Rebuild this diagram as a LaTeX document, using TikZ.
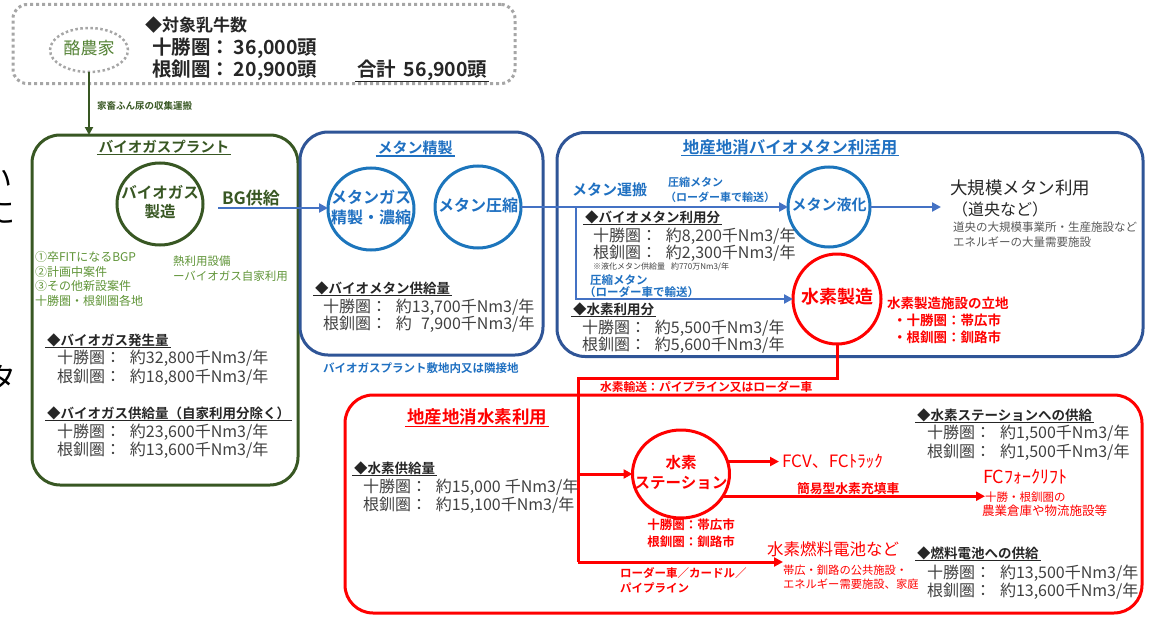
\documentclass[tikz,border=0pt]{standalone}
\usepackage{fontspec}
\setmainfont{Noto Sans CJK JP}[BoldFont={Noto Sans CJK JP Bold}]
\usetikzlibrary{arrows.meta,shapes.geometric}
\definecolor{dgreen}{HTML}{385723}
\definecolor{lgreen}{HTML}{548235}
\definecolor{tgreen}{HTML}{5F9437}
\definecolor{bbox}{HTML}{2F5597}
\definecolor{bcirc}{HTML}{1C75BC}
\definecolor{btext}{HTML}{1F70C1}
\definecolor{barrow}{HTML}{4472C4}
\definecolor{rr}{HTML}{FF0000}
\definecolor{dtext}{HTML}{404040}
\definecolor{htext}{HTML}{262626}
\definecolor{dotgray}{HTML}{A6A6A6}
\definecolor{ntext}{HTML}{595959}
\newcommand{\fsz}[2]{\fontsize{#1pt}{#2pt}\selectfont}
\newcommand{\cbox}[1]{\makebox[0pt]{\begin{tabular}{@{}c@{}}#1\end{tabular}}}
\begin{document}
\begin{tikzpicture}[x=1pt,y=-1pt,
  every node/.style={inner sep=0pt, outer sep=0pt},
  T/.style={anchor=west},
  dat/.style={T, text=dtext, font=\fsz{16}{18}},
  hd/.style={T, text=htext, font=\bfseries\fsz{13.5}{16}},
  ul/.style={append after command={([xshift=-2pt,yshift=-1pt]\tikzlastnode.south west) edge[draw=#1, line width=1.3pt] ([xshift=2pt,yshift=-1pt]\tikzlastnode.south east)}},
  circ/.style={ellipse, draw=#1, line width=3pt},
  bx/.style={draw=#1, line width=3pt, rounded corners=28pt},
  barr/.style={draw=barrow, line width=2.5pt, -{Triangle[length=9pt,width=9pt]}},
  bline/.style={draw=barrow, line width=2.5pt},
  rline/.style={draw=rr, line width=3pt},
  rarr/.style={rline, -{Triangle[length=9pt,width=9pt]}},
  garr/.style={draw=dgreen, line width=2.5pt, -{Triangle[length=8pt,width=8pt]}}
]
\useasboundingbox (0,0) rectangle (1151,618);

% fragments at left edge
\node[anchor=east, font=\fsz{30}{34}] (fr1) at (13,180) {い};
\node[anchor=east, font=\fsz{30}{34}] (fr2) at (16,213) {に};
\node[anchor=east, font=\fsz{30}{34}] (fr3) at (17,378) {タ};

% boxes
\node[draw=dotgray, line width=3pt, dash pattern=on 3pt off 3pt, rounded corners=14pt, minimum width=502pt, minimum height=79pt] (topbox) at (264,44) {};
\node[bx=dgreen, minimum width=266pt, minimum height=350pt] (plant) at (165,310) {};
\node[bx=bbox, minimum width=243pt, minimum height=223pt] (refine) at (421.5,243.5) {};
\node[bx=bbox, minimum width=586pt, minimum height=224pt] (local) at (850,244.5) {};
\node[bx=rr, minimum width=797pt, minimum height=218pt] (h2use) at (743.5,504) {};

% top
\node[ellipse, draw=dotgray, line width=2.5pt, dash pattern=on 2.5pt off 2.5pt, minimum width=78pt, minimum height=44pt, text=lgreen, font=\fsz{17}{20}] (farm) at (89,50) {\cbox{酪農家}};
\node[T, text=htext, font=\bfseries\fsz{17}{20}] (cowh) at (145,25) {◆対象乳牛数};
\node[T, text=htext, font=\bfseries\fsz{19.5}{22}] (cow1) at (152,48) {十勝圏：\hspace{4pt}36,000頭};
\node[T, text=htext, font=\bfseries\fsz{19.5}{22}] (cow2) at (152,70) {根釧圏：\hspace{4pt}20,900頭};
\node[T, text=htext, font=\bfseries\fsz{19.5}{22}, ul=htext] (cowt) at (357,70) {合計\hspace{8pt}56,900頭};
\draw[garr] (farm.south) -- (farm.south |- plant.north);
\node[T, text=dgreen, font=\bfseries\fsz{9.5}{11}] (arrlbl) at (97,106) {家畜ふん尿の収集運搬};

% biogas plant
\node[text=dgreen, font=\bfseries\fsz{14.5}{17}, ul=dgreen] (plantt) at (164,147) {バイオガスプラント};
\node[circ=dgreen, minimum width=86pt, minimum height=82pt, text=dgreen, font=\bfseries\fsz{15.5}{19}] (bgc) at (160,204) {\cbox{バイオガス\\製造}};
\node[T, text=dgreen, font=\bfseries\fsz{17}{20}] (bgs) at (222,198) {BG供給};
\node[T, text=tgreen, font=\fsz{12}{14.5}, align=left] (list) at (35,279) {①卒FITになるBGP\\②計画中案件\\③その他新設案件\\十勝圏・根釧圏各地};
\node[T, text=tgreen, font=\fsz{11.5}{15}, align=left] (heat) at (173,269) {熱利用設備\\ーバイオガス自家利用};
\node[hd, ul=htext] (bgh1) at (47,340) {◆バイオガス発生量};
\node[dat] (bg1a) at (57,358) {十勝圏：\hspace{9pt}約32,800千Nm3/年};
\node[dat] (bg1b) at (57,377) {根釧圏：\hspace{9pt}約18,800千Nm3/年};
\node[hd, ul=htext] (bgh2) at (47,413) {◆バイオガス供給量（自家利用分除く）};
\node[dat] (bg2a) at (57,432) {十勝圏：\hspace{9pt}約23,600千Nm3/年};
\node[dat] (bg2b) at (57,450) {根釧圏：\hspace{9pt}約13,600千Nm3/年};

% methane refining
\node[text=btext, font=\bfseries\fsz{15}{18}, ul=btext] (reft) at (415,148) {メタン精製};
\node[circ=bcirc, minimum width=86pt, minimum height=82pt, text=btext, font=\bfseries\fsz{16}{20}] (mg) at (371,209) {\cbox{メタンガス\\精製・濃縮}};
\node[circ=bcirc, minimum width=86pt, minimum height=82pt, text=btext, font=\bfseries\fsz{16}{20}] (mc) at (478,207) {\cbox{メタン圧縮}};
\coordinate (bgstart) at (218,208);
\draw[barr] (bgstart) -- (bgstart -| mg.west);
\node[hd, ul=htext] (bmh) at (315,288) {◆バイオメタン供給量};
\node[dat] (bm1) at (323,307) {十勝圏：\hspace{9pt}約13,700千Nm3/年};
\node[dat] (bm2) at (323,324) {根釧圏：\hspace{9pt}約\hspace{9pt}7,900千Nm3/年};
\node[T, text=btext, font=\bfseries\fsz{11.5}{14}] (site) at (323,368) {バイオガスプラント敷地内又は隣接地};

% local biomethane use
\node[text=btext, font=\bfseries\fsz{16.5}{19}, ul=btext] (localt) at (790,147) {地産地消バイオメタン利活用};
\node[circ=bcirc, minimum width=82pt, minimum height=80pt, text=btext, font=\bfseries\fsz{15}{19}] (ml) at (829,207) {\cbox{メタン液化}};
\node[circ=rr, minimum width=88pt, minimum height=90pt, text=rr, font=\bfseries\fsz{18}{21}] (h2) at (837,299) {\cbox{水素製造}};
\coordinate (br) at (576,207);
\draw[bline] (mc.east) -- (br);
\draw[barr] (br) -- (ml.west);
\draw[barr] (br) |- (h2.west);
\node[T, text=btext, font=\bfseries\fsz{15}{18}] (mtr) at (572,190) {メタン運搬};
\node[T, text=btext, font=\bfseries\fsz{11}{13}] (cm1) at (668,182) {圧縮メタン};
\node[T, text=btext, font=\bfseries\fsz{11}{13}] (cm1b) at (665,197) {（ローダー車で輸送）};
\node[hd, ul=htext] (umh) at (585,217) {◆バイオメタン利用分};
\node[dat] (um1) at (593,236) {十勝圏：\hspace{9pt}約8,200千Nm3/年};
\node[dat] (um2) at (593,253) {根釧圏：\hspace{9pt}約2,300千Nm3/年};
\node[T, text=dtext, font=\fsz{8}{10}] (um3) at (593,267) {※液化メタン供給量\hspace{6pt}約770万Nm3/年};
\node[T, text=btext, font=\bfseries\fsz{11.5}{13}] (cm2) at (590,280) {圧縮メタン};
\node[T, text=btext, font=\bfseries\fsz{11.5}{13}] (cm2b) at (584,292) {（ローダー車で輸送）};
\node[hd, ul=htext] (h2h) at (573,309) {◆水素利用分};
\node[dat] (h2a) at (582,328) {十勝圏：\hspace{9pt}約5,500千Nm3/年};
\node[dat] (h2b) at (582,345) {根釧圏：\hspace{9pt}約5,600千Nm3/年};
\node[T, text=htext, font=\fsz{17.5}{20}] (big) at (950,188) {大規模メタン利用};
\node[T, text=htext, font=\fsz{16}{19}] (big2) at (952,209) {（道央など）};
\node[T, text=ntext, font=\fsz{11.5}{15}, align=left] (bign) at (953,235) {道央の大規模事業所・生産施設など\\エネルギーの大量需要施設};
\draw[barr, shorten >=9pt] (ml.east) -- (ml.east -| big.west);
\node[T, text=rr, font=\bfseries\fsz{13.5}{17}, align=left] (loc) at (887,320) {水素製造施設の立地\\\hspace{6pt}・十勝圏：帯広市\\\hspace{6pt}・根釧圏：釧路市};

% hydrogen transport
\coordinate (rt) at (578,378);
\coordinate (rb) at (578,562);
\draw[rline] (h2.south) |- (rt) -- (rb);
\node[T, text=rr, font=\bfseries\fsz{11.8}{14}] (h2tr) at (600,387) {水素輸送：パイプライン又はローダー車};

% hydrogen use
\node[text=rr, font=\bfseries\fsz{17.5}{20}, ul=rr] (h2uset) at (477,417) {地産地消水素利用};
\node[hd, ul=htext] (h2sh) at (354,468) {◆水素供給量};
\node[dat] (h2s1) at (363,487) {十勝圏：\hspace{9pt}約15,000\hspace{4pt}千Nm3/年};
\node[dat] (h2s2) at (363,505) {根釧圏：\hspace{9pt}約15,100千Nm3/年};
\node[circ=rr, minimum width=97pt, minimum height=88pt, text=rr, font=\bfseries\fsz{15.5}{20}] (st) at (681,474) {\cbox{水素\\ステーション}};
\draw[rarr] (rt |- st.west) -- (st.west);
\node[text=rr, font=\bfseries\fsz{12.5}{17}, align=center] (stloc) at (691,533) {十勝圏：帯広市\\根釧圏：釧路市};
\node[T, text=rr, font=\fsz{17}{20}] (fcv) at (782,461) {FCV、FCﾄﾗｯｸ};
\draw[rarr, shorten >=3pt] (st.15) -- (st.15 -| fcv.west);
\node[T, text=rr, font=\fsz{11.5}{14}] (fk2) at (985,497) {十勝・根釧圏の};
\draw[rarr] (st.-28) -- (st.-28 -| fk2.west);
\node[T, text=rr, font=\bfseries\fsz{12.8}{15}] (simp) at (797,489) {簡易型水素充填車};
\node[T, text=rr, font=\fsz{18}{20}] (fk) at (983,477) {FCﾌｫｰｸﾘﾌﾄ};
\node[T, text=rr, font=\fsz{12.5}{14}] (fk3) at (982,511) {農業倉庫や物流施設等};
\coordinate (fcend) at (783,562);
\draw[rarr] (rb) -- (fcend);
\node[T, text=rr, font=\fsz{16.5}{19}] (fc) at (767,549) {水素燃料電池など};
\node[T, text=rr, font=\fsz{11.3}{13.5}, align=left] (fcn) at (783,577) {帯広・釧路の公共施設・\\エネルギー需要施設、家庭};
\node[T, text=rr, font=\bfseries\fsz{11.5}{15}, align=left] (ldr) at (620,580) {ローダー車／カードル／\\パイプライン};
\node[hd, ul=htext] (sth) at (917,415) {◆水素ステーションへの供給};
\node[dat] (st1) at (927,433) {十勝圏：\hspace{9pt}約1,500千Nm3/年};
\node[dat] (st2) at (927,452) {根釧圏：\hspace{9pt}約1,500千Nm3/年};
\node[hd, ul=htext] (fch) at (917,553) {◆燃料電池への供給};
\node[dat] (fc1) at (927,573) {十勝圏：\hspace{9pt}約13,500千Nm3/年};
\node[dat] (fc2) at (927,591) {根釧圏：\hspace{9pt}約13,600千Nm3/年};
\end{tikzpicture}
\end{document}
